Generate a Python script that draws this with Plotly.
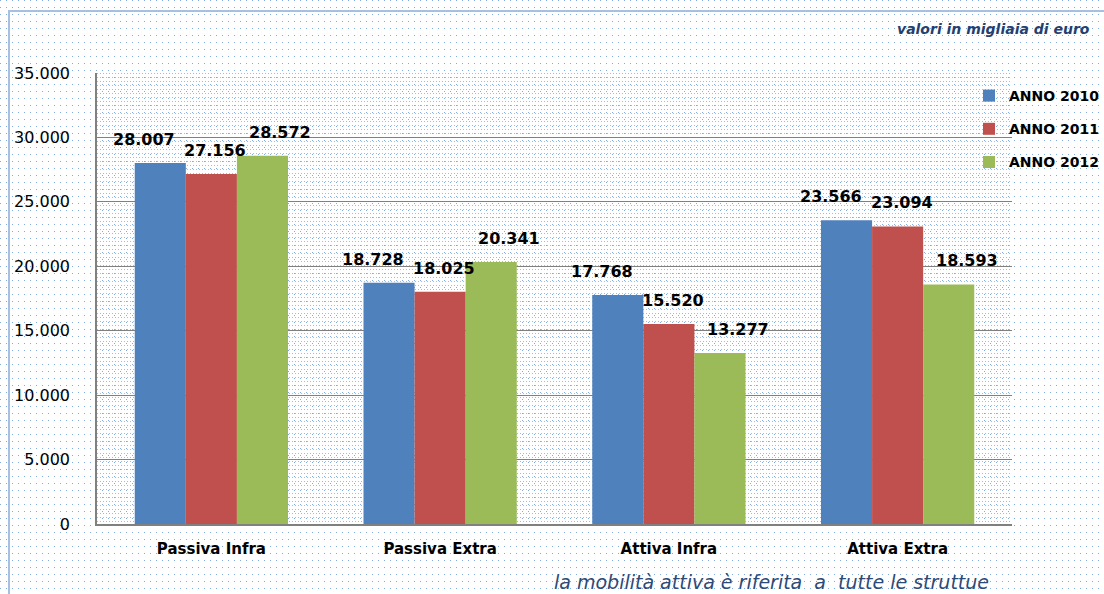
import base64
import plotly.graph_objects as go

categories = ["Passiva Infra", "Passiva Extra", "Attiva Infra", "Attiva Extra"]
series_names = ["ANNO 2010", "ANNO 2011", "ANNO 2012"]
anno_2010 = [28007, 18728, 17768, 23566]
anno_2011 = [27156, 18025, 15520, 23094]
anno_2012 = [28572, 20341, 13277, 18593]
colors = ["#4f81bd", "#c0504d", "#9bbb59"]
y_ticks = [0, 5000, 10000, 15000, 20000, 25000, 30000, 35000]

series_values = [anno_2010, anno_2011, anno_2012]
label_nudge = [-16, 4, 18]  # horizontal label nudges per series (px)

FONT = "DejaVu Sans"
W, H = 1104, 594
L, R, T, B = 97, 92, 73, 70
BARGAP = 0.33
PW, PH = W - L - R, H - T - B


def px_x(px):
    return (px - L) / PW


def px_y(py):
    return (H - B - py) / PH


def dot_svg(w, h, dx, dy, color, op):
    svg = (
        f'<svg xmlns="http://www.w3.org/2000/svg" width="{w}" height="{h}" '
        f'viewBox="0 0 {w} {h}" preserveAspectRatio="none">'
        f'<defs><pattern id="p" width="{dx}" height="{dy}" patternUnits="userSpaceOnUse">'
        f'<rect x="0" y="0" width="1" height="1" fill="{color}" fill-opacity="{op}"/></pattern></defs>'
        f'<rect width="{w}" height="{h}" fill="url(#p)"/></svg>'
    )
    return "data:image/svg+xml;base64," + base64.b64encode(svg.encode()).decode()


fig = go.Figure()
for name, vals, col in zip(series_names, series_values, colors):
    fig.add_trace(go.Bar(
        x=categories, y=vals, name=name, marker=dict(color=col, line=dict(width=0)),
        legendgroup=name,
    ))

n = len(series_values)
w = (1 - BARGAP) / n
annotations = []
for j, vals in enumerate(series_values):
    for i, v in enumerate(vals):
        annotations.append(dict(
            x=i + (j - (n - 1) / 2) * w, y=v, xref="x", yref="y",
            text=f"{v:,}".replace(",", "."), showarrow=False,
            yanchor="bottom", yshift=12, xshift=label_nudge[j],
            font=dict(family=FONT, size=16, color="#000000", weight="bold"),
        ))

annotations.append(dict(
    x=px_x(1092), y=px_y(29), xref="paper", yref="paper", xanchor="right", yanchor="middle",
    text="<b><i>valori in migliaia di euro</i></b>", showarrow=False,
    font=dict(family=FONT, size=14, color="#243f70"),
))
annotations.append(dict(
    x=px_x(991), y=px_y(582), xref="paper", yref="paper", xanchor="right", yanchor="middle",
    text="<i>la mobilità attiva è riferita  a  tutte le struttue</i>", showarrow=False,
    font=dict(family=FONT, size=19, color="#2c4a78"),
))

shapes = [dict(
    type="rect", xref="paper", yref="paper",
    x0=px_x(9), x1=px_x(1120), y0=px_y(11), y1=px_y(610),
    line=dict(color="#a8c0e0", width=2), fillcolor="rgba(0,0,0,0)", layer="below",
)]

images = [
    dict(source=dot_svg(W, H, 6, 7, "#4a86d4", 0.7), xref="paper", yref="paper",
         x=px_x(0), y=px_y(0), sizex=W / PW, sizey=H / PH, sizing="stretch",
         xanchor="left", yanchor="top", layer="below"),
    dict(source=dot_svg(PW, PH, 3, 4, "#4a86d4", 0.55), xref="paper", yref="paper",
         x=0, y=1, sizex=1, sizey=1, sizing="stretch",
         xanchor="left", yanchor="top", layer="below"),
]

fig.update_layout(
    width=W, height=H,
    margin=dict(l=L, r=R, t=T, b=B, autoexpand=False),
    paper_bgcolor="#ffffff",
    plot_bgcolor="rgba(0,0,0,0)",
    barmode="group", bargap=BARGAP, bargroupgap=0,
    separators=",.",
    font=dict(family=FONT, size=15, color="#000000"),
    showlegend=True,
    legend=dict(
        x=px_x(969), y=px_y(80), xanchor="left", yanchor="top",
        bgcolor="rgba(0,0,0,0)", font=dict(family=FONT, size=14, color="#000000", weight="bold"),
        tracegroupgap=12, traceorder="grouped",
    ),
    xaxis=dict(
        showline=True, linecolor="#808080", linewidth=1.5, ticks="",
        tickfont=dict(family=FONT, size=15, color="#000000", weight="bold"),
        showgrid=False, ticklabelstandoff=10,
    ),
    yaxis=dict(
        range=[0, 35000], tickvals=y_ticks, tickformat=",.0f",
        showline=True, linecolor="#808080", linewidth=1.5,
        showgrid=True, gridcolor="#808080", gridwidth=1,
        tickfont=dict(family=FONT, size=16, color="#000000"),
        ticks="", ticklen=0, zeroline=False, ticklabelstandoff=22,
    ),
    annotations=annotations,
    shapes=shapes,
    images=images,
)

fig.write_html(
    "out.html",
    config={"displayModeBar": False},
    post_script="document.body.style.margin='0';document.body.style.overflow='hidden';",
)
